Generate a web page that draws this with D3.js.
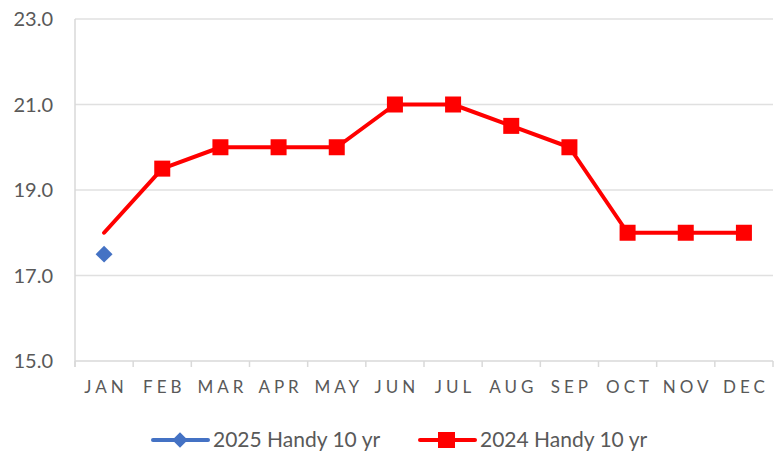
<!DOCTYPE html>
<html>
<head>
<meta charset="utf-8">
<script src="https://cdn.jsdelivr.net/npm/d3@7"></script>
<style>
  body { margin: 0; background: #fff; }
  text { font-family: Lato, "Open Sans", sans-serif; fill: #595959; }
</style>
</head>
<body>
<svg width="775" height="453"></svg>
<script>
const svg = d3.select("svg");
const margin = { top: 19, right: 2, bottom: 92, left: 75 };
const width = +svg.attr("width") - margin.left - margin.right;
const height = +svg.attr("height") - margin.top - margin.bottom;

const months = ["JAN", "FEB", "MAR", "APR", "MAY", "JUN", "JUL", "AUG", "SEP", "OCT", "NOV", "DEC"];
const yTicks = [15, 17, 19, 21, 23];
const handy2025 = [17.5];
const handy2024 = [18, 19.5, 20, 20, 20, 21, 21, 20.5, 20, 18, 18, 18];
const seriesNames = ["2025 Handy 10 yr", "2024 Handy 10 yr"];

const x = d3.scaleBand().domain(months).range([0, width]);
const y = d3.scaleLinear().domain([15, 23]).range([height, 0]);

const g = svg.append("g").attr("transform", `translate(${margin.left},${margin.top})`);

// gridlines
g.selectAll(".grid")
    .data(yTicks.slice(1))
    .enter().append("line")
    .attr("x1", 0).attr("x2", width)
    .attr("y1", d => y(d)).attr("y2", d => y(d))
    .attr("stroke", "#e0e0e0").attr("stroke-width", 1.5);

// y labels
g.selectAll(".ylab")
    .data(yTicks)
    .enter().append("text")
    .attr("x", -22)
    .attr("y", d => y(d))
    .attr("dy", "0.35em")
    .attr("text-anchor", "end")
    .style("font-size", "20px")
    .text(d => d.toFixed(1));

// axes lines
g.append("line").attr("x1", 0).attr("x2", 0).attr("y1", 0).attr("y2", height + 6)
    .attr("stroke", "#d9d9d9").attr("stroke-width", 1.5);
g.append("line").attr("x1", 0).attr("x2", width).attr("y1", height).attr("y2", height)
    .attr("stroke", "#d9d9d9").attr("stroke-width", 1.5);
g.selectAll(".xtick")
    .data(months.map(m => x(m)).concat([width]))
    .enter().append("line")
    .attr("x1", d => d).attr("x2", d => d)
    .attr("y1", height).attr("y2", height + 6)
    .attr("stroke", "#d9d9d9").attr("stroke-width", 1.5);

// x labels
g.selectAll(".xlab")
    .data(months)
    .enter().append("text")
    .attr("x", d => x(d) + x.bandwidth() / 2 + 2)
    .attr("y", height + 32)
    .attr("text-anchor", "middle")
    .style("font-size", "17px")
    .style("letter-spacing", "4px")
    .text(d => d);

const cx = i => x(months[i]) + x.bandwidth() / 2;

// 2024 series
const line = d3.line().x((d, i) => cx(i)).y(d => y(d));
g.append("path")
    .datum(handy2024)
    .attr("d", line)
    .attr("fill", "none")
    .attr("stroke", "#ff0000")
    .attr("stroke-width", 4)
    .attr("stroke-linejoin", "round")
    .attr("stroke-linecap", "round");

g.selectAll(".sq")
    .data(handy2024.slice(1))
    .enter().append("rect")
    .attr("x", (d, i) => cx(i + 1) - 8)
    .attr("y", d => y(d) - 8)
    .attr("width", 16).attr("height", 16)
    .attr("fill", "#ff0000");

// 2025 series
g.selectAll(".dia")
    .data(handy2025)
    .enter().append("path")
    .attr("transform", (d, i) => `translate(${cx(i)},${y(d)}) rotate(45)`)
    .attr("d", "M-6,-6H6V6H-6Z")
    .attr("fill", "#4472c4");

// legend
const legend = svg.append("g").attr("transform", "translate(0,440)");
const items = [
    { name: seriesNames[0], color: "#4472c4", x: 153, marker: "diamond" },
    { name: seriesNames[1], color: "#ff0000", x: 420, marker: "square" }
];
items.forEach(it => {
    legend.append("line")
        .attr("x1", it.x).attr("x2", it.x + 55)
        .attr("y1", 0).attr("y2", 0)
        .attr("stroke", it.color).attr("stroke-width", 4)
        .attr("stroke-linecap", "round");
    if (it.marker === "diamond") {
        legend.append("path")
            .attr("transform", `translate(${it.x + 27},0) rotate(45)`)
            .attr("d", "M-5.5,-5.5H5.5V5.5H-5.5Z")
            .attr("fill", it.color);
    } else {
        legend.append("rect")
            .attr("x", it.x + 18).attr("y", -8)
            .attr("width", 17).attr("height", 16)
            .attr("fill", it.color);
    }
    legend.append("text")
        .attr("x", it.x + 60)
        .attr("y", 0)
        .attr("dy", "0.35em")
        .style("font-size", "21px")
        .text(it.name);
});
</script>
</body>
</html>
